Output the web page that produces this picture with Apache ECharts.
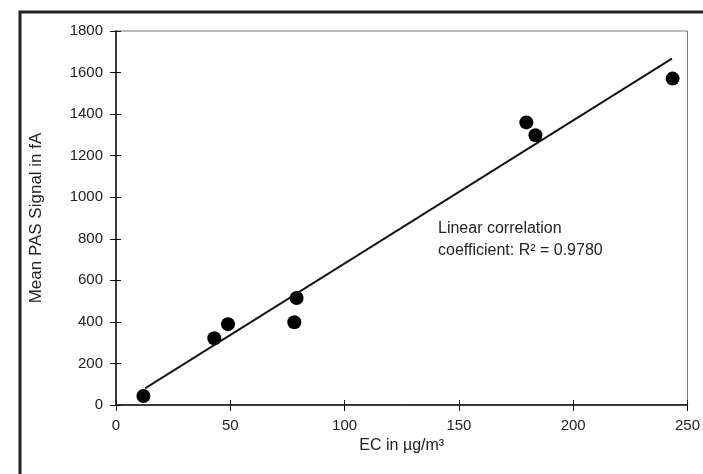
<!DOCTYPE html>
<html>
<head>
<meta charset="utf-8">
<script src="https://cdn.jsdelivr.net/npm/echarts@6/dist/echarts.min.js"></script>
<style>
  html, body { margin: 0; padding: 0; background: #fff; }
  #chart { width: 703px; height: 474px; }
</style>
</head>
<body>
<div id="chart"></div>
<script>
// measured points: EC (µg/m3) vs mean PAS signal (fA)
const ecValues = [12, 43, 49, 78, 79, 179.5, 183.5, 243.5]
const pasValues = [43, 321, 389, 398, 515, 1360, 1298, 1571]
// regression line end points
const fitX = [12.7, 243.2]
const fitY = [80, 1667]
const xTicks = [0, 50, 100, 150, 200, 250]
const yTicks = [0, 200, 400, 600, 800, 1000, 1200, 1400, 1600, 1800]

const font = 'Liberation Sans, Arial, Helvetica, sans-serif'
const textColor = '#222'

const chart = echarts.init(document.getElementById('chart'), null, { renderer: 'canvas' })

const points = ecValues.map((x, i) => [x, pasValues[i]])
const fitLine = fitX.map((x, i) => [x, fitY[i]])

// shared axis bits, the second copy only draws the inner half of the ticks
const xBase = {
  type: 'value',
  min: xTicks[0],
  max: xTicks[xTicks.length - 1],
  interval: xTicks[1] - xTicks[0],
  splitLine: { show: false }
}
const yBase = {
  type: 'value',
  min: yTicks[0],
  max: yTicks[yTicks.length - 1],
  interval: yTicks[1] - yTicks[0],
  splitLine: { show: false }
}

const option = {
  backgroundColor: '#fff',
  animation: false,
  grid: {
    left: 116,
    right: 14,
    top: 31,
    bottom: 69,
    show: true,
    borderColor: '#777',
    borderWidth: 1
  },
  xAxis: [
    {
      ...xBase,
      name: 'EC in µg/m³',
      nameLocation: 'middle',
      nameGap: 31,
      nameTextStyle: { fontFamily: font, fontSize: 16, color: textColor },
      axisLine: { lineStyle: { color: '#111', width: 1.5 } },
      axisTick: { length: 6, lineStyle: { color: '#111' } },
      axisLabel: { fontFamily: font, fontSize: 15, color: textColor, margin: 13, formatter: v => String(v) }
    },
    {
      ...xBase,
      gridIndex: 0,
      position: 'bottom',
      axisLine: { show: false },
      axisTick: { inside: true, length: 5, lineStyle: { color: '#111' } },
      axisLabel: { show: false }
    }
  ],
  yAxis: [
    {
      ...yBase,
      name: 'Mean PAS Signal in fA',
      nameLocation: 'middle',
      nameGap: 71,
      nameTextStyle: { fontFamily: font, fontSize: 17, color: textColor },
      axisLine: { lineStyle: { color: '#111', width: 1.5 } },
      axisTick: { length: 6, lineStyle: { color: '#111' } },
      axisLabel: { fontFamily: font, fontSize: 15, color: textColor, margin: 13, formatter: v => String(v) }
    },
    {
      ...yBase,
      position: 'left',
      axisLine: { show: false },
      axisTick: { inside: true, length: 5, lineStyle: { color: '#111' } },
      axisLabel: { show: false }
    }
  ],
  series: [
    {
      name: 'fit',
      type: 'line',
      data: fitLine,
      symbol: 'none',
      lineStyle: { color: '#111', width: 1.8 },
      silent: true
    },
    {
      name: 'EC',
      type: 'scatter',
      data: points,
      symbol: 'circle',
      symbolSize: 14,
      itemStyle: { color: '#000', opacity: 1 }
    }
  ],
  graphic: [
    // outer frame of the figure (runs off the right and bottom edges)
    {
      type: 'rect',
      shape: { x: 20, y: 12, width: 720, height: 500 },
      style: { fill: 'none', stroke: '#222', lineWidth: 3 },
      silent: true
    },
    {
      type: 'text',
      left: 438,
      top: 218,
      style: {
        text: 'Linear correlation\ncoefficient: R² = 0.9780',
        font: '16px ' + font,
        fill: textColor,
        lineHeight: 22
      }
    }
  ]
}

chart.setOption(option)
</script>
</body>
</html>
